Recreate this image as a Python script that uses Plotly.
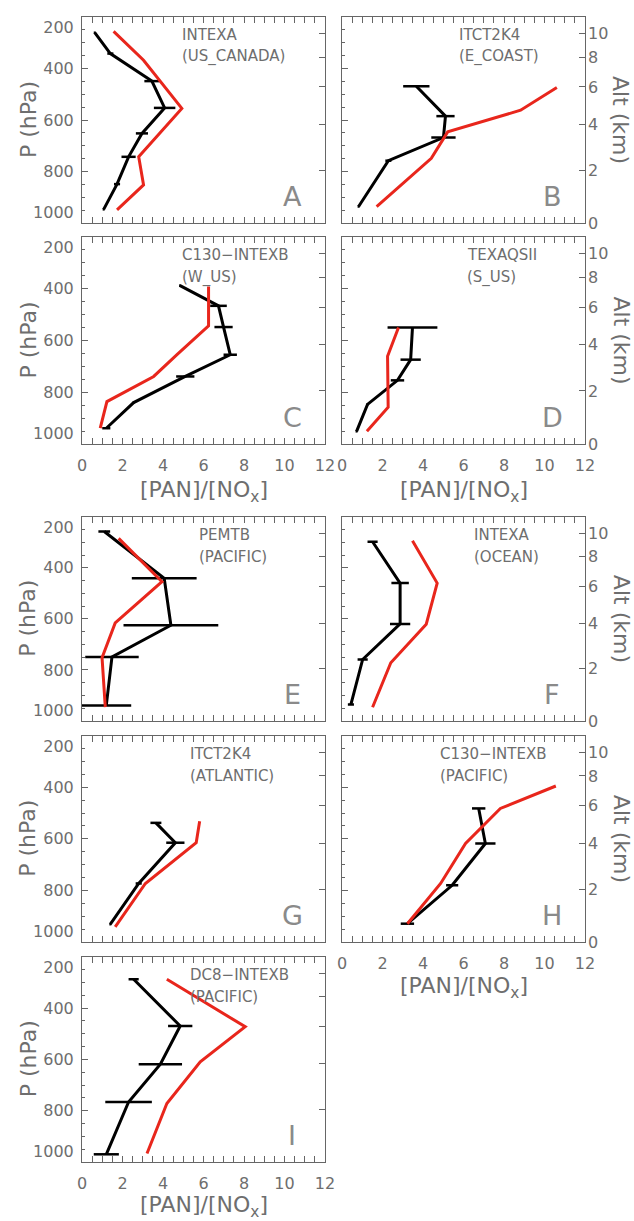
import plotly.graph_objects as go

# ---------------- data ----------------
panel_letters = ["A", "B", "C", "D", "E", "F", "G", "H", "I"]
campaigns = ["INTEXA", "ITCT2K4", "C130\u2212INTEXB", "TEXAQSII", "PEMTB",
             "INTEXA", "ITCT2K4", "C130\u2212INTEXB", "DC8\u2212INTEXB"]
regions = ["(US_CANADA)", "(E_COAST)", "(W_US)", "(S_US)", "(PACIFIC)",
           "(OCEAN)", "(ATLANTIC)", "(PACIFIC)", "(PACIFIC)"]

x_ticks = [0, 2, 4, 6, 8, 10, 12]
p_ticks = [200, 400, 600, 800, 1000]
p_labels = ["<br>200", "400", "600", "800", "1000<br>"]
alt_km = [0, 2, 4, 6, 8, 10]

# observed (black) : pressure levels, ratio, error ; model (red)
A_obs_p = [261, 342, 449, 553, 652, 743, 849, 947]
A_obs = [0.63, 1.40, 3.45, 4.08, 2.96, 2.30, 1.73, 1.07]
A_obs_err = [0.05, 0.15, 0.37, 0.53, 0.30, 0.35, 0.15, 0.05]
A_mod_p = [256, 368, 555, 743, 852, 949]
A_mod = [1.56, 3.04, 4.93, 2.80, 3.04, 1.73]

B_obs_p = [469, 585, 668, 758, 936]
B_obs = [3.67, 5.11, 5.01, 2.29, 0.82]
B_obs_err = [0.65, 0.45, 0.60, 0.15, 0.05]
B_mod_p = [474, 562, 646, 749, 936]
B_mod = [10.61, 8.82, 5.22, 4.41, 1.71]

C_obs_p = [387, 466, 548, 655, 739, 840, 939]
C_obs = [4.82, 6.74, 6.99, 7.32, 5.10, 2.55, 1.20]
C_obs_err = [0.02, 0.41, 0.45, 0.33, 0.45, 0.05, 0.20]
C_mod_p = [391, 543, 655, 739, 836, 939]
C_mod = [6.25, 6.25, 4.69, 3.54, 1.23, 0.90]

D_obs_p = [550, 674, 754, 847, 951]
D_obs = [3.48, 3.39, 2.74, 1.26, 0.72]
D_obs_err = [1.23, 0.50, 0.33, 0.05, 0.05]
D_mod_p = [550, 661, 858, 951]
D_mod = [2.79, 2.25, 2.28, 1.23]

E_obs_p = [258, 441, 625, 749, 939]
E_obs = [1.10, 4.06, 4.39, 1.48, 1.20]
E_obs_err = [0.29, 1.60, 2.34, 1.32, 1.23]
E_mod_p = [285, 454, 616, 752, 946]
E_mod = [1.81, 3.95, 1.64, 0.99, 1.15]

F_obs_p = [298, 460, 620, 759, 935]
F_obs = [1.51, 2.87, 2.87, 1.02, 0.44]
F_obs_err = [0.25, 0.43, 0.50, 0.25, 0.15]
F_mod_p = [294, 460, 621, 772, 946]
F_mod = [3.48, 4.70, 4.16, 2.41, 1.51]

G_obs_p = [538, 615, 773, 931]
G_obs = [3.65, 4.61, 2.80, 1.40]
G_obs_err = [0.27, 0.45, 0.15, 0.05]
G_mod_p = [532, 615, 773, 941]
G_mod = [5.81, 5.64, 3.13, 1.64]

H_obs_p = [482, 618, 780, 929]
H_obs = [6.75, 7.08, 5.44, 3.23]
H_obs_err = [0.33, 0.50, 0.30, 0.33]
H_mod_p = [395, 482, 618, 773, 929]
H_mod = [10.56, 7.82, 6.10, 4.87, 3.23]

I_obs_p = [288, 470, 619, 766, 970]
I_obs = [2.55, 4.85, 3.87, 2.30, 1.20]
I_obs_err = [0.25, 0.60, 1.07, 1.15, 0.62]
I_mod_p = [288, 473, 610, 772, 967]
I_mod = [4.19, 8.06, 5.84, 4.19, 3.21]

obs_p = [A_obs_p, B_obs_p, C_obs_p, D_obs_p, E_obs_p, F_obs_p, G_obs_p, H_obs_p, I_obs_p]
obs = [A_obs, B_obs, C_obs, D_obs, E_obs, F_obs, G_obs, H_obs, I_obs]
obs_err = [A_obs_err, B_obs_err, C_obs_err, D_obs_err, E_obs_err, F_obs_err, G_obs_err, H_obs_err, I_obs_err]
mod_p = [A_mod_p, B_mod_p, C_mod_p, D_mod_p, E_mod_p, F_mod_p, G_mod_p, H_mod_p, I_mod_p]
mod = [A_mod, B_mod, C_mod, D_mod, E_mod, F_mod, G_mod, H_mod, I_mod]

# ---------------- layout ----------------
W, H = 634, 1221
col_px = [(82, 325), (342, 585)]
row_px = [(17, 223), (237, 444), (516.7, 721), (735.7, 942), (956.7, 1162)]
pos = [(0, 0), (0, 1), (1, 0), (1, 1), (2, 0), (2, 1), (3, 0), (3, 1), (4, 0)]
label_x = [4.84, 5.68, 4.84, 6.07, 5.68, 6.42, 5.23, 4.74, 5.23]
show_x_labels = {2, 3, 7, 8}

LINE = "#666666"
TXT = "#6e6e6e"
FONT = "DejaVu Sans"
RED = "#e8261c"


def std_p(z_km):
    return 1013.25 * (1 - 2.25577e-5 * z_km * 1000) ** 5.25588


alt_tickvals = [min(std_p(z), 1000) for z in alt_km]

fig = go.Figure()
layout = dict(width=W, height=H, margin=dict(l=0, r=0, t=0, b=0, autoexpand=False),
              paper_bgcolor="white", plot_bgcolor="white", showlegend=False,
              font=dict(family=FONT, size=16, color=TXT))
annotations = []

for i in range(9):
    r, c = pos[i]
    n = i + 1
    xs = "" if n == 1 else str(n)
    xa, ya, ya2 = "x" + xs, "y" + xs, "y" + str(n + 9)
    x0, x1 = col_px[c]
    y0, y1 = row_px[r]
    xdom = [x0 / W, x1 / W]
    ydom = [1 - y1 / H, 1 - y0 / H]

    layout["xaxis" + xs] = dict(
        domain=xdom, anchor=ya, range=[0, 12], tickvals=x_ticks,
        ticks="inside", ticklen=6, tickwidth=1, tickcolor=LINE,
        minor=dict(dtick=0.5, ticks="inside", ticklen=3, tickcolor=LINE),
        showline=True, linecolor=LINE, linewidth=1, mirror="allticks",
        showgrid=False, zeroline=False, automargin=False,
        showticklabels=(i in show_x_labels), ticklabelstandoff=7,
        tickfont=dict(family=FONT, size=16, color=TXT))
    layout["yaxis" + xs] = dict(
        domain=ydom, anchor=xa, range=[1000, 200], tickvals=p_ticks,
        ticktext=p_labels,
        ticks="inside", ticklen=6, tickwidth=1, tickcolor=LINE,
        minor=dict(dtick=50, ticks="inside", ticklen=3, tickcolor=LINE),
        showline=True, linecolor=LINE, linewidth=1, mirror=True,
        showgrid=False, zeroline=False, automargin=False,
        showticklabels=(c == 0), ticklabelstandoff=4,
        tickfont=dict(family=FONT, size=16, color=TXT))
    layout["yaxis" + str(n + 9)] = dict(
        overlaying=ya, anchor=xa, side="right", range=[1000, 200],
        tickvals=alt_tickvals, ticktext=[str(z) for z in alt_km],
        ticks="inside", ticklen=6, tickwidth=1, tickcolor=LINE,
        showline=False, showgrid=False, zeroline=False, automargin=False,
        showticklabels=(c == 1), ticklabelstandoff=2,
        tickfont=dict(family=FONT, size=16, color=TXT))

    fig.add_trace(go.Scatter(x=[None], y=[None], xaxis=xa, yaxis=ya2,
                             showlegend=False, hoverinfo="skip"))
    fig.add_trace(go.Scatter(
        x=obs[i], y=obs_p[i], xaxis=xa, yaxis=ya, mode="lines",
        line=dict(color="black", width=3),
        error_x=dict(type="data", array=obs_err[i], symmetric=True,
                     color="black", thickness=2.5, width=0),
        showlegend=False))
    fig.add_trace(go.Scatter(
        x=mod[i], y=mod_p[i], xaxis=xa, yaxis=ya, mode="lines",
        line=dict(color=RED, width=3), showlegend=False))

    # campaign / region labels
    for txt, off in ((campaigns[i], 18), (regions[i], 40)):
        annotations.append(dict(
            text=txt, xref=xa, x=label_x[i], yref=ya + " domain",
            y=1 - off / (y1 - y0), xanchor="left", yanchor="middle",
            showarrow=False, font=dict(family=FONT, size=15, color=TXT)))
    # panel letter
    annotations.append(dict(
        text=panel_letters[i], xref=xa + " domain", x=1, xshift=-33,
        yref=ya + " domain", y=0, yshift=27, xanchor="center",
        yanchor="middle", showarrow=False,
        font=dict(family=FONT, size=27, color="#8a8a8a")))

    cy = 1 - (y0 + y1) / 2 / H
    if c == 0:
        annotations.append(dict(
            text="P (hPa)", xref="paper", x=28 / W, yref="paper", y=cy,
            textangle=-90, showarrow=False, xanchor="center", yanchor="middle",
            font=dict(family=FONT, size=22, color=TXT)))
    else:
        annotations.append(dict(
            text="Alt (km)", xref="paper", x=621 / W, yref="paper", y=cy,
            textangle=90, showarrow=False, xanchor="center", yanchor="middle",
            font=dict(family=FONT, size=22, color=TXT)))

    if i in show_x_labels:
        ty = {2: 491, 3: 491, 7: 987, 8: 1206}[i]
        annotations.append(dict(
            text="[PAN]/[NO<sub>x</sub>]", xref="paper", x=(x0 + x1) / 2 / W,
            yref="paper", y=1 - ty / H, showarrow=False,
            xanchor="center", yanchor="middle",
            font=dict(family=FONT, size=22, color=TXT)))

layout["annotations"] = annotations
fig.update_layout(**layout)
fig.write_html("out.html")
